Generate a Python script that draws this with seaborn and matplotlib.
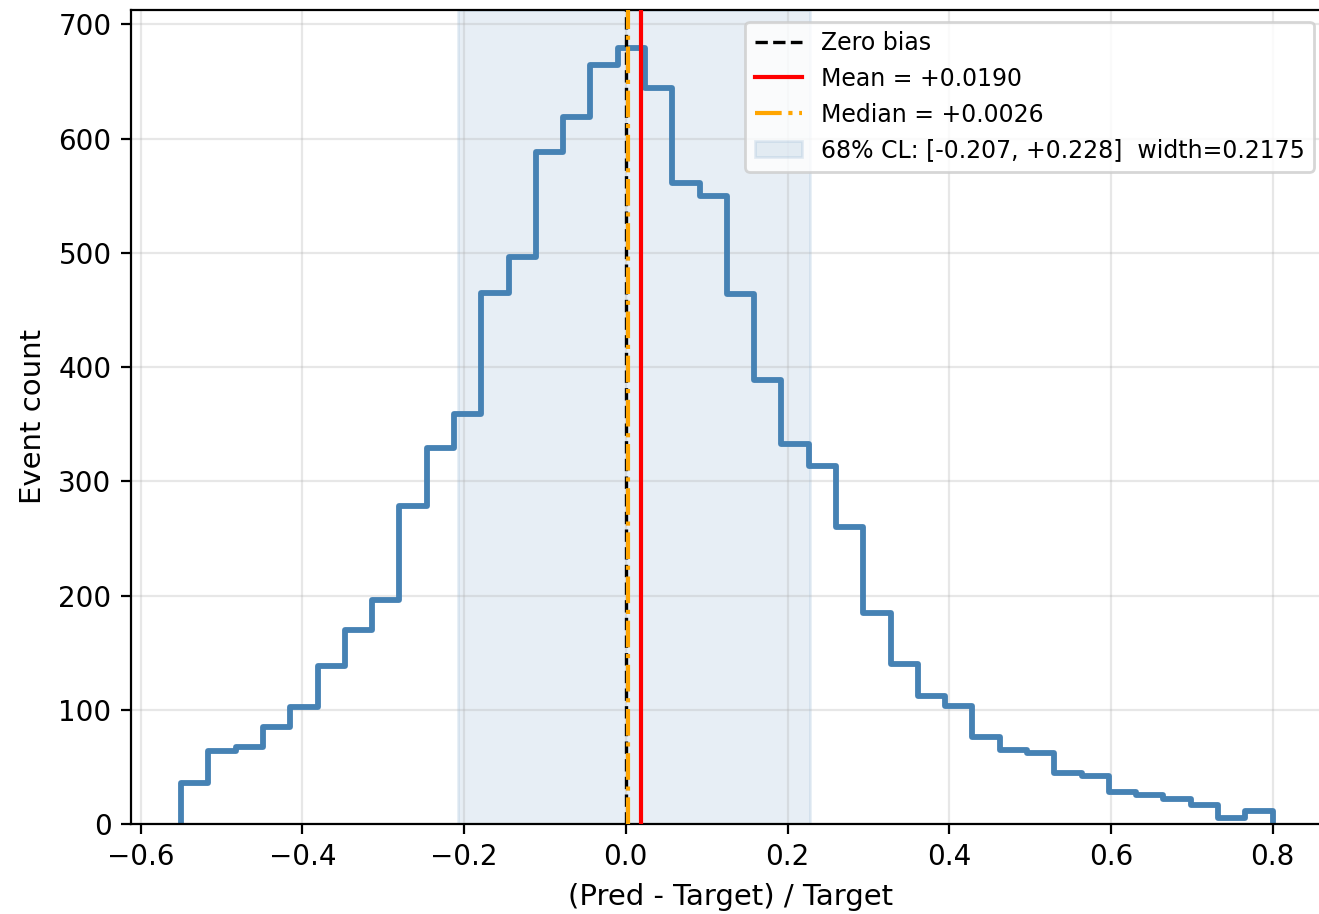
import numpy as np
import pandas as pd
import matplotlib
matplotlib.use("Agg")
import matplotlib.pyplot as plt
import seaborn as sns

# ---- data ----
bin_lo = -0.55
bin_hi = 0.80
n_bins = 40
counts = [36, 64, 67, 85, 102, 138, 170, 196, 278, 329,
          359, 465, 496, 588, 619, 664, 679, 644, 561, 550,
          464, 389, 333, 313, 260, 185, 140, 112, 103, 76,
          65, 62, 45, 42, 28, 25, 22, 17, 5, 11]
mean_val = 0.0190
median_val = 0.0026
cl_lo = -0.207
cl_hi = 0.228
cl_width = 0.2175
x_ticks = [-0.6, -0.4, -0.2, 0.0, 0.2, 0.4, 0.6, 0.8]
y_ticks = [0, 100, 200, 300, 400, 500, 600, 700]

edges = np.linspace(bin_lo, bin_hi, n_bins + 1)
centers = 0.5 * (edges[:-1] + edges[1:])
# tiny empty bins at both ends so the step outline drops to zero
eps = 1e-9
edges_plot = [bin_lo - eps] + list(edges) + [bin_hi + eps]
df = pd.DataFrame({"x": centers, "w": counts})

plt.rcParams["font.family"] = ["DejaVu Sans"]
plt.rcParams["font.size"] = 10

W, H, DPI = 1319, 914, 200
fig = plt.figure(figsize=(W / DPI, H / DPI), dpi=DPI)
ax_left, ax_right = 131 / W, 1330 / W
ax_bottom, ax_top = (H - 824) / H, (H - 9.5) / H
ax = fig.add_axes([ax_left, ax_bottom, ax_right - ax_left, ax_top - ax_bottom])

cl_label = f"68% CL: [{cl_lo:.3f}, {cl_hi:+.3f}]  width={cl_width:.4f}"
ax.axvspan(cl_lo, cl_hi, color="steelblue", alpha=0.13, label=cl_label, zorder=0)

sns.histplot(data=df, x="x", weights="w", bins=edges_plot, element="step",
             fill=False, color="steelblue", linewidth=2.1, ax=ax, zorder=2)

ax.axvline(0.0, color="black", linestyle="--", linewidth=1.2, label="Zero bias", zorder=3)
ax.axvline(mean_val, color="red", linestyle="-", linewidth=1.5,
           label=f"Mean = {mean_val:+.4f}", zorder=3)
ax.axvline(median_val, color="orange", linestyle="-.", linewidth=1.5,
           label=f"Median = {median_val:+.4f}", zorder=3)

ax.set_xlim(-0.612, -0.612 + (1330 - 131) / 808.5)
ax.set_ylim(0, 713)
ax.set_xticks(x_ticks)
ax.set_yticks(y_ticks)
ax.grid(True, alpha=0.3)
ax.set_axisbelow(True)
ax.set_xlabel("(Pred - Target) / Target", fontsize=10.5)
ax.set_ylabel("Event count", fontsize=10.5)
ax.tick_params(labelsize=10)

handles, labels = ax.get_legend_handles_labels()
order = ["Zero bias", f"Mean = {mean_val:+.4f}", f"Median = {median_val:+.4f}", cl_label]
hmap = dict(zip(labels, handles))
ax.legend([hmap[l] for l in order], order, loc="upper right", fontsize=8.5,
          borderaxespad=0,
          bbox_to_anchor=(1314 / W, (H - 21.5) / H), bbox_transform=fig.transFigure)

fig.savefig("out.png", dpi=DPI)
